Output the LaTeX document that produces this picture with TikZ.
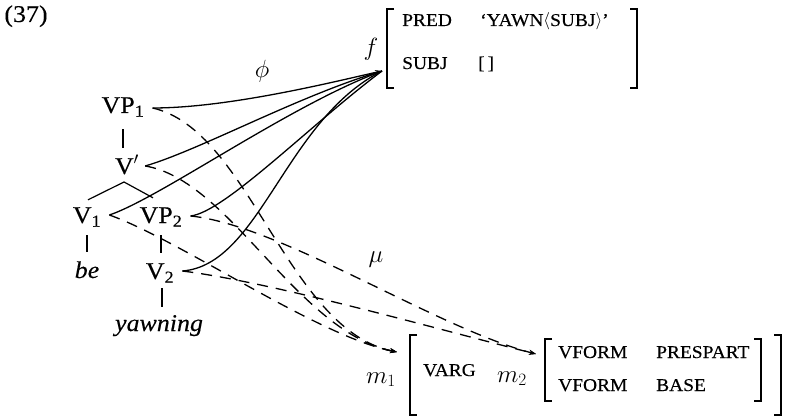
\documentclass[tikz,border=0pt]{standalone}
\usepackage{fontspec}
\setmainfont{Liberation Serif}[FakeStretch=1.08,FakeBold=0.3]
\usetikzlibrary{arrows.meta,calc}
\begin{document}
\begin{tikzpicture}[x=1pt,y=-1pt,
  tree/.style={font=\fontsize{24}{28}\selectfont, inner sep=0pt, text height=13pt, text depth=3pt, anchor=base},
  feat/.style={font=\fontsize{18}{22}\selectfont, inner sep=0pt, anchor=base west},
  mathlbl/.style={font=\fontsize{24}{28}\selectfont, inner sep=0pt, anchor=base},
  treeline/.style={line width=1.2pt},
  phiarc/.style={line width=1.3pt},
  muarc/.style={line width=1.3pt, dash pattern=on 11pt off 8pt},
  tipped/.style={-{Stealth[length=7pt,width=5pt]}},
  brk/.style={line width=1.6pt}
]
\useasboundingbox (0,0) rectangle (785,417);

% tree
\node[tree] (n37) at (26,22) {(37)};
\node[tree] (VP1) at (123,113) {VP\textsubscript{1}};
\node[tree] (Vp) at (127,174) {V$'$};
\node[tree] (V1) at (87,223) {V\textsubscript{1}};
\node[tree] (VP2) at (161,223) {VP\textsubscript{2}};
\node[tree] (be) at (87,278) {\textit{be}};
\node[tree] (V2) at (160,279) {V\textsubscript{2}};
\node[tree] (yawning) at (159,331) {\textit{yawning}};

% projection labels
\node[mathlbl] (phi) at (262,78) {$\phi$};
\node[mathlbl] (mu) at (376,262) {$\mu$};
\node[mathlbl] (f) at (371,56) {$f$};
\node[mathlbl] (m1) at (381,383) {$m_1$};
\node[mathlbl] (m2) at (512,382) {$m_2$};

% f-structure
\node[feat] (pred) at (402,26) {PRED};
\node[feat] (yawn) at (480,26) {`YAWN$\langle$SUBJ$\rangle$'};
\node[feat] (subj) at (402,69) {SUBJ};
\node[feat] (emp) at (478,69) {[\,]};
\draw[brk] (394,9) -- (387,9) -- (387,88) -- (394,88);
\draw[brk] (630,9) -- (637,9) -- (637,88) -- (630,88);

% m-structure
\node[feat] (varg) at (423,376) {VARG};
\node[feat] (vf1) at (558,358) {VFORM};
\node[feat] (pres) at (656,358) {PRESPART};
\node[feat] (vf2) at (558,391) {VFORM};
\node[feat] (base) at (656,391) {BASE};
\draw[brk] (417,335) -- (410,335) -- (410,415) -- (417,415);
\draw[brk] (774,335) -- (781,335) -- (781,415) -- (774,415);
\draw[brk] (552,339) -- (545,339) -- (545,401) -- (552,401);
\draw[brk] (754,339) -- (761,339) -- (761,401) -- (754,401);

% tree lines
\coordinate (apex) at (124,182);
\draw[treeline, shorten <=13pt, shorten >=13pt] (VP1.south) -- (VP1.south |- Vp.north);
\draw[treeline] ($(V1.north)+(1,-10)$) -- (apex) -- ($(VP2.north)+(-8,-12)$);
\draw[treeline, shorten <=9pt, shorten >=13pt] (V1.south) -- (V1.south |- be.north);
\draw[treeline, shorten <=9pt, shorten >=13pt] (VP2.south) -- (VP2.south |- V2.north);
\draw[treeline, shorten <=6pt, shorten >=11pt] ($(V2.south)+(2,0)$) -- ($(V2.south |- yawning.north)+(2,0)$);

% targets
\coordinate (ftip) at (382,71);
\coordinate (m1tip) at (397,352);
\coordinate (m2tip) at (536,354);

% starting points
\coordinate (sVP1) at ($(VP1.east)+(8,0)$);
\coordinate (sVp) at ($(Vp.east)+(6,-3)$);
\coordinate (sV1) at ($(V1.east)+(8,-3)$);
\coordinate (sVP2) at ($(VP2.east)+(8,-2)$);
\coordinate (sV2) at ($(V2.east)+(8,-3)$);

% phi
\draw[phiarc, tipped] (sVP1) .. controls (230,108) and (337,81) .. (ftip);
\draw[phiarc] (sVp) .. controls (200,150) and (300,95) .. (ftip);
\draw[phiarc] (sV1) .. controls (160,198) and (290,105) .. (ftip);
\draw[phiarc] (sVP2) .. controls (225,212) and (310,125) .. (ftip);
\draw[phiarc] (sV2) .. controls (260,265) and (285,120) .. (ftip);

% mu
\draw[muarc, tipped] (sVP1) .. controls (250,130) and (287,330) .. (m1tip);
\draw[muarc, tipped] (sVp) .. controls (230,180) and (297,332) .. (m1tip);
\draw[muarc, tipped] (sV1) .. controls (180,240) and (317,336) .. (m1tip);
\draw[muarc, tipped] (sVP2) .. controls (280,225) and (436,328) .. (m2tip);
\draw[muarc, tipped] (sV2) .. controls (270,282) and (426,326) .. (m2tip);
\end{tikzpicture}
\end{document}
